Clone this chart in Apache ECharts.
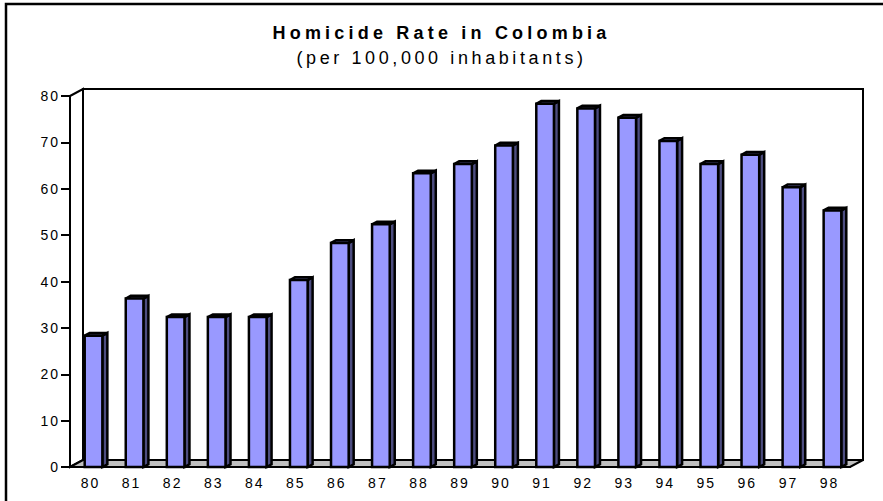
<!DOCTYPE html>
<html>
<head>
<meta charset="utf-8">
<title>Homicide Rate in Colombia</title>
<script src="https://cdn.jsdelivr.net/npm/echarts@6/dist/echarts.min.js"></script>
<style>
  html, body { margin: 0; padding: 0; background: #fff; }
  #chart { width: 883px; height: 501px; }
</style>
</head>
<body>
<div id="chart"></div>
<script>
// data
var years = ['80', '81', '82', '83', '84', '85', '86', '87', '88', '89',
             '90', '91', '92', '93', '94', '95', '96', '97', '98'];
var rates = [28, 36, 32, 32, 32, 40, 48, 52, 63, 65,
             69, 78, 77, 75, 70, 65, 67, 60, 55];
var yMin = 0, yMax = 80, yStep = 10;

var font = "'Liberation Sans', Arial, sans-serif";
var DEPTH_X = 13, DEPTH_Y = -7;   // depth of the box

// back wall, side wall and floor of the 3d box
function renderWalls(params, api) {
  var cs = params.coordSys;
  var L = cs.x, R = cs.x + cs.width, T = cs.y, B = cs.y + cs.height;
  var line = { stroke: '#000', lineWidth: 2 };
  return {
    type: 'group',
    children: [
      { type: 'polygon', shape: { points: [[L + DEPTH_X, T + DEPTH_Y], [R + DEPTH_X, T + DEPTH_Y], [R + DEPTH_X, B + DEPTH_Y], [L + DEPTH_X, B + DEPTH_Y]] },
        style: Object.assign({ fill: '#fff' }, line) },
      { type: 'polygon', shape: { points: [[L, T], [L + DEPTH_X, T + DEPTH_Y], [L + DEPTH_X, B + DEPTH_Y], [L, B]] },
        style: Object.assign({ fill: '#fff' }, line) },
      { type: 'polygon', shape: { points: [[L, B], [R, B], [R + DEPTH_X, B + DEPTH_Y], [L + DEPTH_X, B + DEPTH_Y]] },
        style: Object.assign({ fill: '#c0c0c0' }, line) }
    ]
  };
}

// one 3d column
function renderBar(params, api) {
  var idx = api.value(0);
  var top = api.coord([idx, api.value(1)]);
  var base = api.coord([idx, 0]);
  var band = api.size([1, 0])[0];
  var w = band * 0.43;
  var sx = 3, sy = -1.5;       // columns sit a little inside the box
  var dx = 5, dy = -2.7;       // column depth
  var x0 = top[0] - w / 2 + sx, x1 = x0 + w;
  var y0 = top[1] + sy, y1 = base[1];
  var line = { stroke: '#000', lineWidth: 2.5, lineJoin: 'miter' };
  return {
    type: 'group',
    children: [
      { type: 'polygon', shape: { points: [[x1, y0], [x1 + dx, y0 + dy], [x1 + dx, y1 + dy], [x1, y1]] },
        style: Object.assign({ fill: '#4d4d80' }, line) },
      { type: 'polygon', shape: { points: [[x0, y0], [x0 + dx, y0 + dy], [x1 + dx, y0 + dy], [x1, y0]] },
        style: Object.assign({ fill: '#9999ff' }, line) },
      { type: 'rect', shape: { x: x0, y: y0, width: w, height: y1 - y0 },
        style: Object.assign({ fill: '#9999ff' }, line) }
    ]
  };
}

var chart = echarts.init(document.getElementById('chart'), null, { renderer: 'svg' });

var option = {
  animation: false,
  backgroundColor: '#fff',
  title: [
    { text: 'Homicide Rate in Colombia', left: 'center', top: 19,
      textStyle: { fontFamily: font, fontSize: 18, fontWeight: 'bold', color: '#000' } },
    { text: '(per 100,000 inhabitants)', left: 'center', top: 44,
      textStyle: { fontFamily: font, fontSize: 18, fontWeight: 'normal', color: '#000' } }
  ],
  graphic: [
    { type: 'polyline', shape: { points: [[6, 501], [6, 4], [883, 4]] },
      style: { fill: null, stroke: '#000', lineWidth: 2.5 }, silent: true, z: 100 }
  ],
  grid: { left: 70, right: 33, top: 96, bottom: 34, containLabel: false },
  xAxis: {
    type: 'category',
    data: years,
    boundaryGap: true,
    axisLine: { lineStyle: { color: '#000', width: 2 } },
    axisTick: { alignWithLabel: false, length: 7, lineStyle: { color: '#000', width: 2 } },
    axisLabel: { margin: 9, fontFamily: font, fontSize: 14, color: '#000' },
    splitLine: { show: false },
    z: 10
  },
  yAxis: {
    type: 'value',
    min: yMin, max: yMax, interval: yStep,
    axisLine: { show: true, lineStyle: { color: '#000', width: 2 } },
    axisTick: { show: true, length: 9, lineStyle: { color: '#000', width: 2 } },
    axisLabel: { margin: 10, fontFamily: font, fontSize: 14, color: '#000' },
    splitLine: { show: false },
    z: 10
  },
  series: [
    { type: 'custom', name: 'walls', renderItem: renderWalls, data: [[0, 0]], silent: true, z: 1 },
    { type: 'custom', name: 'rate', renderItem: renderBar,
      data: rates.map(function (v, i) { return [i, v]; }), z: 5 }
  ]
};

chart.setOption(option);

// the original has loosely spaced lettering
function spaceLetters() {
  document.querySelectorAll('#chart text').forEach(function (t) {
    var cs = getComputedStyle(t);
    var fs = parseFloat(cs.fontSize);
    var sp = 2;
    if (fs >= 16) sp = parseInt(cs.fontWeight, 10) >= 600 ? 4.2 : 3.6;
    t.style.letterSpacing = sp + 'px';
  });
}
chart.on('finished', spaceLetters);
spaceLetters();
</script>
</body>
</html>
